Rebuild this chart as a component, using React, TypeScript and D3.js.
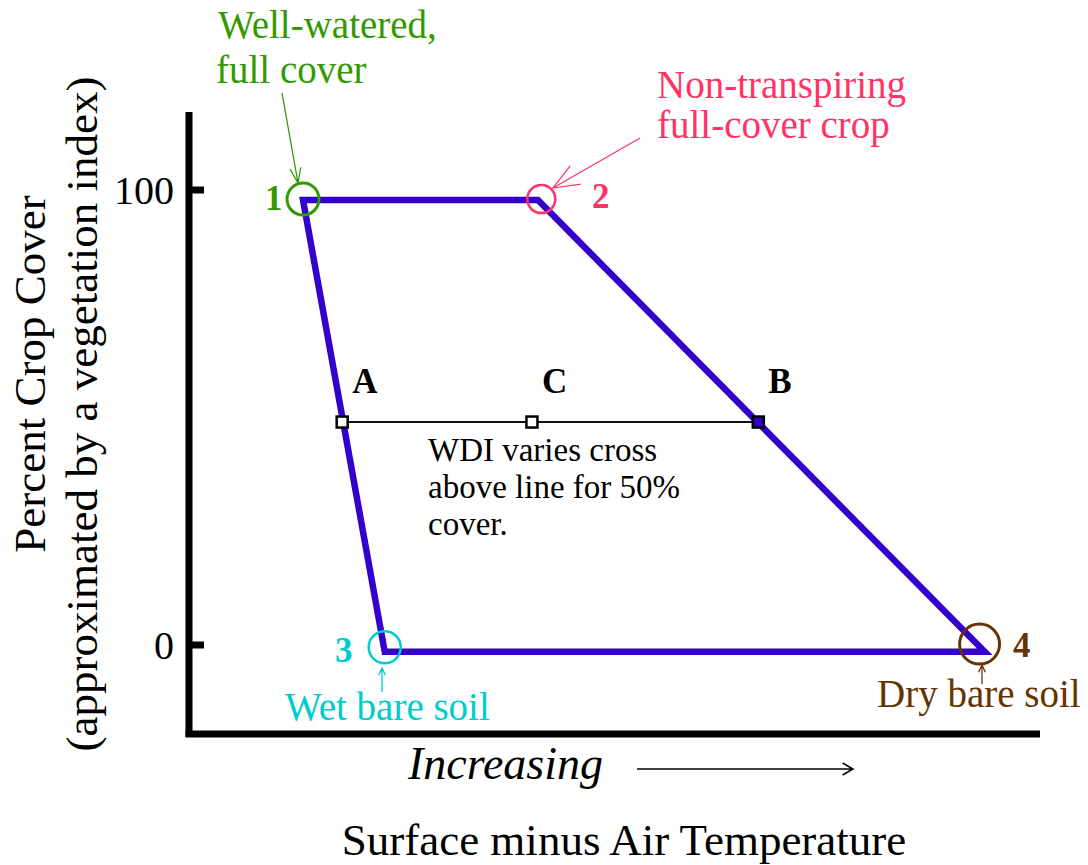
import React from "react";
import * as d3 from "d3";

// ---------- data ----------
const vertexNames = ["1", "2", "4", "3"]; // polygon order: 1 -> 2 -> 4 -> 3
const vertexX = [13.4, 41.0, 93.5, 23.0];
const vertexY = [97.8, 97.8, -1.5, -1.5];

const circleNames = ["1", "2", "3", "4"];
const circleX = [13.4, 41.4, 23.0, 92.9];
const circleY = [98.0, 98.0, -0.5, 0.2];

const wdiNames = ["A", "C", "B"];
const wdiX = [18.0, 40.3, 66.9];
const wdiLevel = 49.0;

const yTicks = [0, 100];
const yTickLabels = ["0", "100"];

// ---------- layout / styles ----------
const W = 1088;
const H = 865;
const FONT = "'Liberation Serif', 'DejaVu Serif', serif";
const BLUE = "#3300cc";
const GREEN = "#339900";
const PINK = "#ff3366";
const CYAN = "#00cccc";
const BROWN = "#663300";

const circleStyle = [
  { color: GREEN, r: 16, sw: 3 },
  { color: PINK, r: 14, sw: 2.5 },
  { color: CYAN, r: 16, sw: 2.5 },
  { color: BROWN, r: 20, sw: 3 },
];

const x = d3.scaleLinear().domain([0, 100]).range([189, 1040]);
const y = d3.scaleLinear().domain([0, 100]).range([645, 190]);

function arrowPath(x1: number, y1: number, x2: number, y2: number, len: number, angDeg: number) {
  const a = Math.atan2(y1 - y2, x1 - x2);
  const t = (angDeg * Math.PI) / 180;
  const b1x = x2 + len * Math.cos(a + t);
  const b1y = y2 + len * Math.sin(a + t);
  const b2x = x2 + len * Math.cos(a - t);
  const b2y = y2 + len * Math.sin(a - t);
  return `M${x1},${y1}L${x2},${y2}M${b1x},${b1y}L${x2},${y2}L${b2x},${b2y}`;
}

function T(props: any) {
  const { style, children, ...rest } = props;
  return (
    <text {...rest} style={{ fontFamily: FONT, ...(style || {}) }}>
      {children}
    </text>
  );
}

export default function App() {
  const pts: [number, number][] = vertexX.map((v, i) => [x(v), y(vertexY[i])]);
  const poly = d3.line().curve(d3.curveLinearClosed)(pts) || "";
  const yAxisX = x(0);
  const xAxisY = 734;
  const sq = 11;

  return (
    <svg
      width={W}
      height={H}
      viewBox={`0 0 ${W} ${H}`}
      style={{ position: "absolute", left: 0, top: 0, background: "#fff" }}
    >
      <rect x={0} y={0} width={W} height={H} fill="#fff" />

      {/* axes */}
      <line x1={yAxisX} y1={112} x2={yAxisX} y2={xAxisY + 3} stroke="#000" strokeWidth={7} />
      <line x1={yAxisX - 3.5} y1={xAxisY} x2={x(100)} y2={xAxisY} stroke="#000" strokeWidth={7} />
      {yTicks.map((t, i) => (
        <g key={t}>
          <line x1={yAxisX} x2={yAxisX + 15} y1={y(t)} y2={y(t)} stroke="#000" strokeWidth={7} />
          <T x={yAxisX - 15} y={y(t) + 14} textAnchor="end" fontSize={40} fill="#000">
            {yTickLabels[i]}
          </T>
        </g>
      ))}

      {/* y title */}
      <T transform="translate(45,374) rotate(-90)" textAnchor="middle" fontSize={45} fill="#000">
        Percent Crop Cover
      </T>
      <T transform="translate(97,414) rotate(-90)" textAnchor="middle" fontSize={45} fill="#000">
        (approximated by a vegetation index)
      </T>

      {/* x title */}
      <T x={408} y={779} fontSize={46} fontStyle="italic" fill="#000">
        Increasing
      </T>
      <path d={arrowPath(637, 769, 853, 769, 12, 30)} stroke="#000" strokeWidth={1.5} fill="none" />
      <T x={624} y={855} textAnchor="middle" fontSize={45} fill="#000">
        Surface minus Air Temperature
      </T>

      {/* 50% cover line */}
      <line
        x1={x(wdiX[0])}
        x2={x(wdiX[wdiX.length - 1])}
        y1={y(wdiLevel)}
        y2={y(wdiLevel)}
        stroke="#111"
        strokeWidth={2}
      />

      {/* trapezoid */}
      <path d={poly} fill="none" stroke={BLUE} strokeWidth={6.5} strokeLinejoin="miter" />

      {/* A, B, C squares and labels */}
      {wdiNames.map((n, i) => (
        <g key={n}>
          <rect
            x={x(wdiX[i]) - sq / 2}
            y={y(wdiLevel) - sq / 2}
            width={sq}
            height={sq}
            fill={n === "B" ? BLUE : "#fff"}
            stroke="#000"
            strokeWidth={2.5}
          />
          <T x={x(wdiX[i]) + 10} y={y(wdiLevel) - 29} fontSize={35} fontWeight="bold" fill="#000">
            {n}
          </T>
        </g>
      ))}
      <T fontSize={33} fill="#000">
        <tspan x={428} y={461}>WDI varies cross</tspan>
        <tspan x={428} y={498}>above line for 50%</tspan>
        <tspan x={428} y={535}>cover.</tspan>
      </T>

      {/* corner circles */}
      {circleNames.map((n, i) => (
        <circle
          key={n}
          cx={x(circleX[i])}
          cy={y(circleY[i])}
          r={circleStyle[i].r}
          fill="none"
          stroke={circleStyle[i].color}
          strokeWidth={circleStyle[i].sw}
        />
      ))}

      {/* vertex numbers */}
      <T x={265} y={210} fontSize={35} fontWeight="bold" fill={GREEN}>1</T>
      <T x={592} y={208} fontSize={35} fontWeight="bold" fill={PINK}>2</T>
      <T x={335} y={662} fontSize={35} fontWeight="bold" fill={CYAN}>3</T>
      <T x={1013} y={657} fontSize={35} fontWeight="bold" fill={BROWN}>4</T>

      {/* annotations */}
      <T fontSize={39} fill={GREEN}>
        <tspan x={218} y={38}>Well-watered,</tspan>
        <tspan x={216} y={83}>full cover</tspan>
      </T>
      <path d={arrowPath(282, 93, 298, 183, 16, 20)} stroke={GREEN} strokeWidth={1.3} fill="none" />

      <T fontSize={39} fill={PINK}>
        <tspan x={657} y={98}>Non-transpiring</tspan>
        <tspan x={657} y={138}>full-cover crop</tspan>
      </T>
      <path d={arrowPath(640, 138, 553, 188, 28, 22)} stroke={PINK} strokeWidth={1.2} fill="none" />

      <T x={285} y={720} fontSize={39} fill={CYAN}>Wet bare soil</T>
      <path d={arrowPath(382, 692, 382, 668, 8, 25)} stroke={CYAN} strokeWidth={1.3} fill="none" />

      <T x={877} y={707} fontSize={39} fill={BROWN}>Dry bare soil</T>
      <path d={arrowPath(982, 684, 982, 665, 8, 25)} stroke={BROWN} strokeWidth={1.3} fill="none" />
    </svg>
  );
}
